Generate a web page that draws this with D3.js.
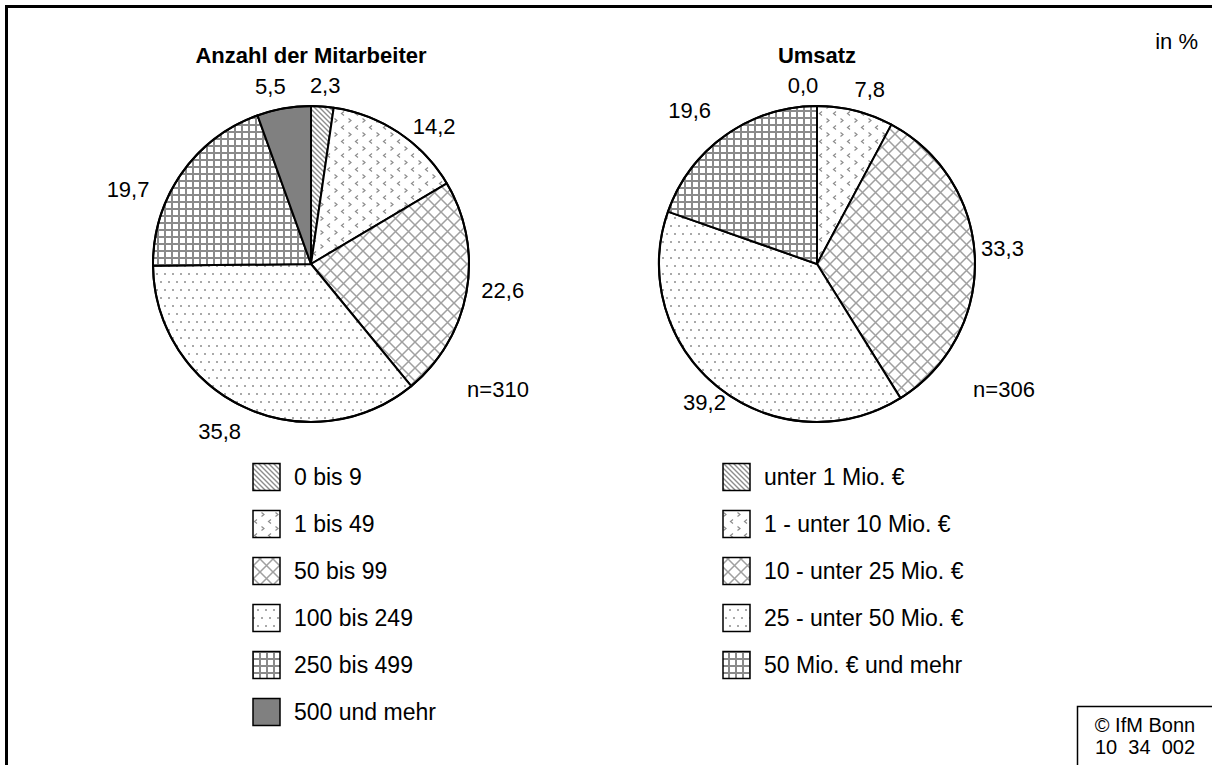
<!DOCTYPE html>
<html>
<head>
<meta charset="utf-8">
<script src="https://cdn.jsdelivr.net/npm/d3@7"></script>
<style>
  html, body { margin: 0; padding: 0; background: #fff; }
  svg { display: block; font-family: "Liberation Sans", Arial, sans-serif; }
</style>
</head>
<body>
<svg id="chart" width="1212" height="765"></svg>
<script>
// ---------- DATA ----------
const employeeTitle = "Anzahl der Mitarbeiter";
const employeeCategories = ["0 bis 9", "1 bis 49", "50 bis 99", "100 bis 249", "250 bis 499", "500 und mehr"];
const employeeValues = [2.3, 14.2, 22.6, 35.8, 19.7, 5.5];
const employeeN = "n=310";

const revenueTitle = "Umsatz";
const revenueCategories = ["unter 1 Mio. €", "1 - unter 10 Mio. €", "10 - unter 25 Mio. €", "25 - unter 50 Mio. €", "50 Mio. € und mehr"];
const revenueValues = [0.0, 7.8, 33.3, 39.2, 19.6];
const revenueN = "n=306";

const unitLabel = "in %";
const sourceLines = ["© IfM Bonn", "10  34  002"];

// ---------- LAYOUT / STYLE ----------
const patternIds = ["pDiag", "pChev", "pCross", "pDots", "pGrid", "pSolid"];
// label nudges [degrees, px] relative to slice mid-angle / default radius
const employeeNudge = [[0.4, 0], [8, -5], [-2, 3], [3.6, 4], [-12.6, 6], [-3, 1]];
const revenueNudge = [[-4.5, 0], [2.8, 0], [-2.8, -4], [0.4, -11], [-4.4, 10]];

const svg = d3.select("#chart");
const defs = svg.append("defs");
const grey = "#8c8c8c";

// diagonal stripes
let p = defs.append("pattern").attr("id", "pDiag").attr("patternUnits", "userSpaceOnUse")
  .attr("width", 5).attr("height", 5);
p.append("rect").attr("width", 5).attr("height", 5).attr("fill", "#fff");
p.append("path").attr("d", "M-1,-1 L6,6 M-1,4 L1,6 M4,-1 L6,1")
  .attr("stroke", grey).attr("stroke-width", 1.4);

// chevrons
p = defs.append("pattern").attr("id", "pChev").attr("patternUnits", "userSpaceOnUse")
  .attr("width", 14).attr("height", 14);
p.append("rect").attr("width", 14).attr("height", 14).attr("fill", "#fff");
p.append("path").attr("d", "M5,1.5 L2.5,3.5 L5,5.5 M9.5,8.5 L12,10.5 L9.5,12.5")
  .attr("stroke", grey).attr("stroke-width", 1.2).attr("fill", "none");

// diamond crosshatch
p = defs.append("pattern").attr("id", "pCross").attr("patternUnits", "userSpaceOnUse")
  .attr("width", 13).attr("height", 13);
p.append("rect").attr("width", 13).attr("height", 13).attr("fill", "#fff");
p.append("path").attr("d", "M0,0 L13,13 M13,0 L0,13")
  .attr("stroke", "#a0a0a0").attr("stroke-width", 1.5);

// dots
p = defs.append("pattern").attr("id", "pDots").attr("patternUnits", "userSpaceOnUse")
  .attr("width", 8).attr("height", 16);
p.append("rect").attr("width", 8).attr("height", 16).attr("fill", "#fff");
p.append("circle").attr("cx", 2).attr("cy", 2).attr("r", 1).attr("fill", grey);
p.append("circle").attr("cx", 6).attr("cy", 10).attr("r", 1).attr("fill", grey);

// grid
p = defs.append("pattern").attr("id", "pGrid").attr("patternUnits", "userSpaceOnUse")
  .attr("width", 7).attr("height", 7);
p.append("rect").attr("width", 7).attr("height", 7).attr("fill", "#fff");
p.append("path").attr("d", "M1,0 V7 M0,1 H7")
  .attr("stroke", "#8a8a8a").attr("stroke-width", 2);

// solid
p = defs.append("pattern").attr("id", "pSolid").attr("patternUnits", "userSpaceOnUse")
  .attr("width", 4).attr("height", 4);
p.append("rect").attr("width", 4).attr("height", 4).attr("fill", "#808080");

// outer frame
svg.append("rect").attr("x", 6.5).attr("y", 6.5).attr("width", 1400).attr("height", 1000)
  .attr("fill", "none").attr("stroke", "#000").attr("stroke-width", 3);

const R = 158;
const fontSize = 22;
const legendFontSize = 23;

function drawPie(cx, cy, title, cats, vals, nText, nudges, legendX) {
  const g = svg.append("g").attr("transform", `translate(${cx},${cy})`);
  const pie = d3.pie().sort(null).value(d => d)(vals);
  const arc = d3.arc().innerRadius(0).outerRadius(R);

  g.selectAll("path.slice").data(pie).join("path")
    .attr("class", "slice")
    .attr("d", arc)
    .attr("fill", (d, i) => `url(#${patternIds[i]})`)
    .attr("stroke", "#000").attr("stroke-width", 2).attr("stroke-linejoin", "round");

  g.append("circle").attr("r", R).attr("fill", "none").attr("stroke", "#000").attr("stroke-width", 2);

  // value labels
  const fmt = v => d3.format(".1f")(v).replace(".", ",");
  pie.forEach((d, i) => {
    const mid = (d.startAngle + d.endAngle) / 2 + nudges[i][0] * Math.PI / 180;
    const t = g.append("text").attr("font-size", fontSize).attr("text-anchor", "middle")
      .attr("dominant-baseline", "central").text(fmt(d.data));
    const w = t.node().getComputedTextLength();
    const s = Math.sin(mid), c = Math.cos(mid);
    const rr = R + 10 + Math.abs(s) * w / 2 + Math.abs(c) * 10 + nudges[i][1];
    t.attr("x", s * rr).attr("y", -c * rr);
  });

  // title
  svg.append("text").attr("x", cx).attr("y", 63).attr("text-anchor", "middle")
    .attr("font-size", fontSize).attr("font-weight", "bold").text(title);

  // n
  g.append("text").attr("x", 187).attr("y", 125).attr("text-anchor", "middle")
    .attr("dominant-baseline", "central").attr("font-size", fontSize).text(nText);

  // legend
  const y0 = 477, step = 47, bs = 27;
  const lg = svg.append("g");
  cats.forEach((cat, i) => {
    const yc = y0 + i * step;
    lg.append("rect").attr("x", legendX).attr("y", yc - bs / 2).attr("width", bs).attr("height", bs)
      .attr("fill", `url(#${patternIds[i]})`).attr("stroke", "#000").attr("stroke-width", 1.5);
    lg.append("text").attr("x", legendX + 41).attr("y", yc).attr("dominant-baseline", "central")
      .attr("font-size", legendFontSize).text(cat);
  });
}

drawPie(311, 264, employeeTitle, employeeCategories, employeeValues, employeeN, employeeNudge, 253);
drawPie(817, 264, revenueTitle, revenueCategories, revenueValues, revenueN, revenueNudge, 723);

// unit
svg.append("text").attr("x", 1198).attr("y", 49).attr("text-anchor", "end")
  .attr("font-size", fontSize).text(unitLabel);

// source box
svg.append("rect").attr("x", 1077.5).attr("y", 706.5).attr("width", 200).attr("height", 100)
  .attr("fill", "#fff").attr("stroke", "#000").attr("stroke-width", 1.5);
sourceLines.forEach((s, i) => {
  svg.append("text").attr("x", 1145).attr("y", 732 + i * 22).attr("text-anchor", "middle")
    .attr("font-size", 20).attr("xml:space", "preserve").style("white-space", "pre").text(s);
});
</script>
</body>
</html>
